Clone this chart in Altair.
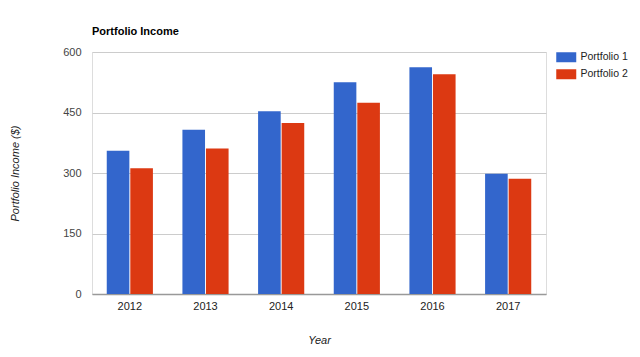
import altair as alt
import pandas as pd

years = ["2012", "2013", "2014", "2015", "2016", "2017"]
series = ["Portfolio 1", "Portfolio 2"]
portfolio1 = [355, 407, 453, 525, 562, 298]
portfolio2 = [312, 361, 424, 474, 545, 286]
colors = ["#3366cc", "#dc3912"]
y_ticks = [0, 150, 300, 450, 600]

rows = []
for i, yr in enumerate(years):
    rows.append({"Year": yr, "Series": series[0], "Income": portfolio1[i]})
    rows.append({"Year": yr, "Series": series[1], "Income": portfolio2[i]})
df = pd.DataFrame(rows)

FONT = "Liberation Sans"

chart = alt.Chart(df).mark_bar().encode(
    x=alt.X(
        "Year:N",
        sort=years,
        scale=alt.Scale(paddingInner=0.39, paddingOuter=0.195),
        axis=alt.Axis(
            title="Year",
            labelAngle=0,
            ticks=False,
            grid=False,
            domainColor="#999999",
            domainWidth=1.5,
            labelColor="#222222",
            labelFontSize=11,
            labelFont=FONT,
            labelPadding=6,
            labelBaseline="top",
            titleFont=FONT,
            titleFontSize=11,
            titleFontStyle="italic",
            titleFontWeight="normal",
            titleColor="#222222",
            titleX=227,
            titleY=46,
            titleBaseline="middle",
            titleAlign="center",
        ),
    ),
    xOffset=alt.XOffset("Series:N", sort=series, scale=alt.Scale(paddingInner=0.04, paddingOuter=0)),
    y=alt.Y(
        "Income:Q",
        scale=alt.Scale(domain=[0, 600], nice=False),
        axis=alt.Axis(
            title="Portfolio Income ($)",
            values=y_ticks,
            domain=False,
            ticks=False,
            gridColor="#cccccc",
            gridWidth=1,
            labelColor="#444444",
            labelFontSize=11,
            labelFont=FONT,
            labelPadding=11,
            titleFont=FONT,
            titleFontSize=11,
            titleFontStyle="italic",
            titleFontWeight="normal",
            titleColor="#222222",
            titleX=-77,
            titleY=121,
            titleAngle=-90,
            titleAlign="center",
            titleBaseline="middle",
        ),
    ),
    color=alt.Color(
        "Series:N",
        sort=series,
        scale=alt.Scale(domain=series, range=colors),
        legend=alt.Legend(
            title=None,
            orient="none",
            legendX=469,
            legendY=0,
            symbolType="M-2,-1H2V1H-2Z",
            symbolSize=100,
            symbolStrokeWidth=0,
            symbolOpacity=1,
            labelFont=FONT,
            labelFontSize=10.5,
            labelColor="#222222",
            labelOffset=9,
            rowPadding=6,
            padding=0,
        ),
    ),
).properties(
    width=454,
    height=242,
    title=alt.TitleParams(
        "Portfolio Income",
        anchor="start",
        frame="group",
        font=FONT,
        fontSize=11,
        fontWeight="bold",
        color="#000000",
        offset=0,
        baseline="alphabetic",
    ),
    autosize=alt.AutoSizeParams(type="none"),
    padding={"left": 92, "top": 52, "right": 94, "bottom": 63},
).configure_view(stroke=None).configure(background="white")

chart.save("out.html", embed_options={"renderer": "svg", "actions": False})
